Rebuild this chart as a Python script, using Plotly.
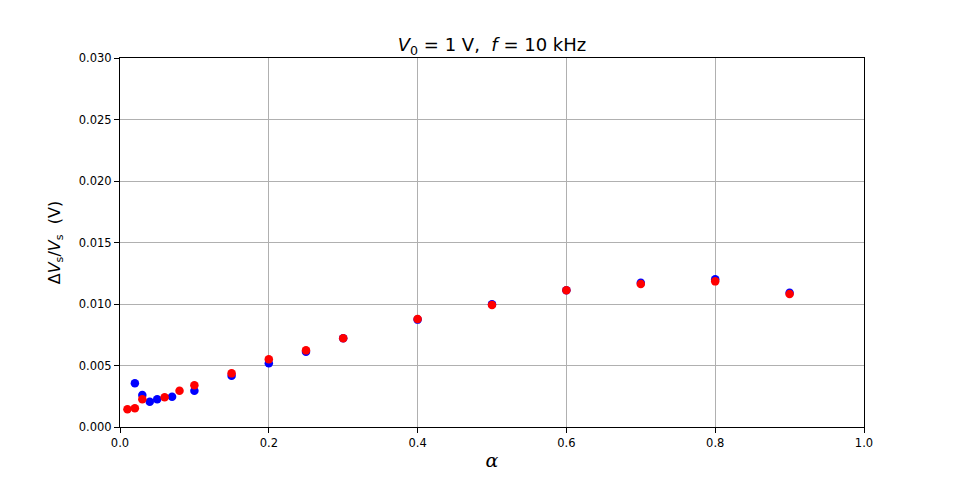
import plotly.graph_objects as go

blue_x = [0.02, 0.03, 0.04, 0.05, 0.07, 0.1, 0.15, 0.2, 0.25, 0.3, 0.4, 0.5, 0.6, 0.7, 0.8, 0.9]
blue_y = [0.00355, 0.00260, 0.00206, 0.00225, 0.00246, 0.00295, 0.00417, 0.00518, 0.00612, 0.00721,
          0.00873, 0.00997, 0.01111, 0.01173, 0.01201, 0.01092]
red_x = [0.01, 0.02, 0.03, 0.06, 0.08, 0.1, 0.15, 0.2, 0.25, 0.3, 0.4, 0.5, 0.6, 0.7, 0.8, 0.9]
red_y = [0.00144, 0.00152, 0.00225, 0.00241, 0.00295, 0.00339, 0.00436, 0.00550, 0.00623, 0.00721,
         0.00878, 0.00992, 0.01111, 0.01163, 0.01184, 0.01081]

x_ticks = [0.0, 0.2, 0.4, 0.6, 0.8, 1.0]
y_ticks = [0.0, 0.005, 0.010, 0.015, 0.020, 0.025, 0.030]

fig = go.Figure()
fig.add_trace(go.Scatter(x=blue_x, y=blue_y, mode="markers",
                         marker=dict(color="#0000ff", size=8.5), showlegend=False))
fig.add_trace(go.Scatter(x=red_x, y=red_y, mode="markers",
                         marker=dict(color="#ff0000", size=8.5), showlegend=False))

axis_common = dict(showline=True, linecolor="black", linewidth=1, mirror=True,
                   ticks="outside", ticklen=5, tickcolor="black", automargin=False,
                   showgrid=True, gridcolor="#b0b0b0", gridwidth=0.8, zeroline=False,
                   tickfont=dict(family="DejaVu Sans", size=11.5, color="black"))

fig.update_xaxes(range=[0, 1], tickvals=x_ticks, ticktext=["0.0", "0.2", "0.4", "0.6", "0.8", "1.0"],
                 title=dict(text="<i>α</i>", font=dict(family="DejaVu Serif", size=19, color="black"),
                            standoff=4),
                 **axis_common)
fig.update_yaxes(range=[0, 0.03], tickvals=y_ticks,
                 ticktext=["0.000", "0.005", "0.010", "0.015", "0.020", "0.025", "0.030"],
                 title=dict(text="Δ<i>V</i><sub>s</sub>/<i>V</i><sub>s</sub>  (V)",
                            font=dict(family="DejaVu Sans", size=16, color="black"), standoff=14),
                 **axis_common)

fig.update_layout(
    width=960, height=480,
    margin=dict(l=120, r=96, t=58, b=53),
    plot_bgcolor="white", paper_bgcolor="white",
    title=dict(text="<i>V</i><sub>0</sub> = 1 V,  <i>f</i> = 10 kHz",
               font=dict(family="DejaVu Sans", size=18, color="black"),
               x=0.5, xanchor="center", xref="paper", y=1, yref="paper", yanchor="bottom",
               pad=dict(b=7)),
)

fig.write_html("out.html")
